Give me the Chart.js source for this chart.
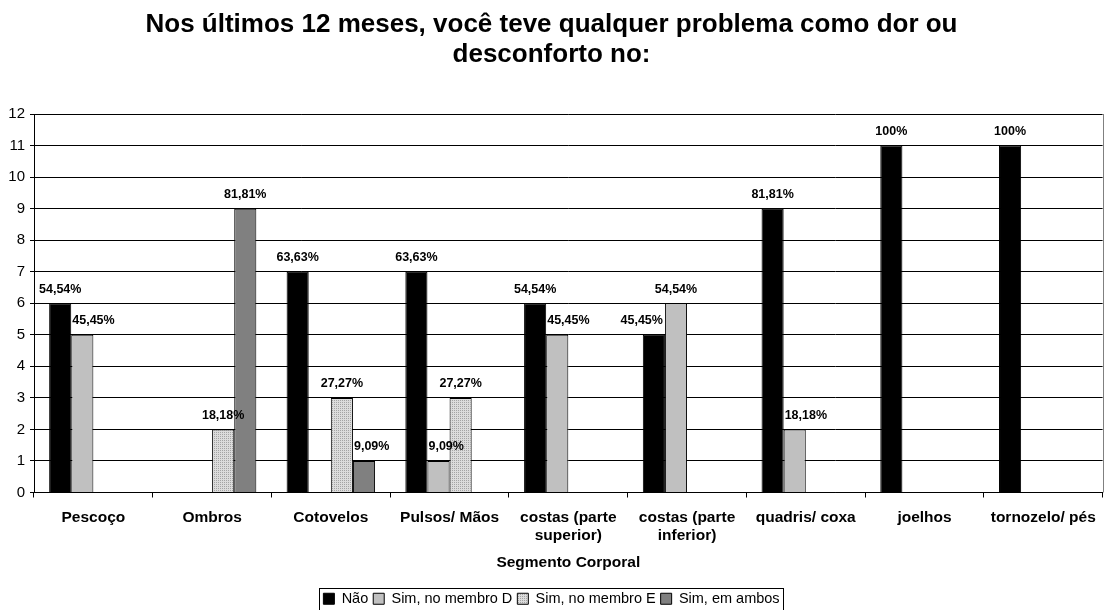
<!DOCTYPE html>
<html>
<head>
<meta charset="utf-8">
<script src="https://cdn.jsdelivr.net/npm/chart.js@4/dist/chart.umd.min.js"></script>
<style>
  html, body { margin: 0; padding: 0; background: #fff; }
  #wrap { width: 1107px; height: 610px; }
</style>
</head>
<body>
<div id="wrap"><canvas id="chart" width="1107" height="610"></canvas></div>
<script>
const categories = [
  'Pescoço', 'Ombros', 'Cotovelos', 'Pulsos/ Mãos',
  ['costas (parte', 'superior)'], ['costas (parte', 'inferior)'],
  'quadris/ coxa', 'joelhos', 'tornozelo/ pés'
];

const naoValues   = [6, 0, 7, 7, 6, 5, 9, 11, 11];
const simDValues  = [5, 0, 0, 1, 5, 6, 2, 0, 0];
const simEValues  = [0, 2, 3, 3, 0, 0, 0, 0, 0];
const ambosValues = [0, 9, 1, 0, 0, 0, 0, 0, 0];

const naoLabels   = ['54,54%', '', '63,63%', '63,63%', '54,54%', '45,45%', '81,81%', '100%', '100%'];
const simDLabels  = ['45,45%', '', '', '9,09%', '45,45%', '54,54%', '18,18%', '', ''];
const simELabels  = ['', '18,18%', '27,27%', '27,27%', '', '', '', '', ''];
const ambosLabels = ['', '81,81%', '9,09%', '', '', '', '', '', ''];

const yTicks = [0, 1, 2, 3, 4, 5, 6, 7, 8, 9, 10, 11, 12];

const FONT = "'Liberation Sans', Arial, sans-serif";

// fine stipple for "Sim, no membro E"
function dotPattern() {
  const c = document.createElement('canvas');
  c.width = 2; c.height = 2;
  const g = c.getContext('2d');
  g.fillStyle = '#dcdcdc';
  g.fillRect(0, 0, 2, 2);
  g.fillStyle = '#a4a4a4';
  g.fillRect(0, 0, 1, 1);
  return g.createPattern(c, 'repeat');
}

const ctx = document.getElementById('chart').getContext('2d');

// percent labels above the bars; a label that would run into a taller
// bar on its left is pushed right, the first series' label is pushed left
const barLabels = {
  id: 'barLabels',
  afterDatasetsDraw(chart) {
    const c = chart.ctx;
    const sets = chart.data.datasets;
    c.save();
    c.font = 'bold 12.5px ' + FONT;
    c.fillStyle = '#000';
    c.textBaseline = 'middle';
    c.textAlign = 'center';
    sets.forEach((ds, i) => {
      const meta = chart.getDatasetMeta(i);
      meta.data.forEach((bar, j) => {
        const txt = ds.pctLabels[j];
        if (!txt) return;
        const w = c.measureText(txt).width;
        const ty = bar.y - 14;
        const left = bar.x - bar.width / 2;
        const right = bar.x + bar.width / 2;
        const taller = k => {
          if (k < 0 || k >= sets.length) return false;
          const v = sets[k].data[j];
          if (!v) return false;
          return chart.getDatasetMeta(k).data[j].y < ty + 7;
        };
        let x = bar.x;
        if (taller(i - 1) && bar.x - w / 2 < left) {
          x = left + w / 2 + 1;
        } else if (i === 0 && taller(i + 1) && bar.x + w / 2 > right) {
          x = right - w / 2 - 2;
        }
        c.fillText(txt, x, ty);
      });
    });
    c.restore();
  }
};

// right edge of the plot and the box round the legend
const frames = {
  id: 'frames',
  afterDraw(chart) {
    const c = chart.ctx;
    const a = chart.chartArea;
    c.save();
    c.strokeStyle = '#808080';
    c.lineWidth = 1;
    c.beginPath();
    c.moveTo(Math.round(a.right) + 0.5, a.top);
    c.lineTo(Math.round(a.right) + 0.5, a.bottom);
    c.stroke();

    const boxes = chart.legend.legendHitBoxes;
    if (boxes && boxes.length) {
      const left = Math.min(...boxes.map(b => b.left)) - 4;
      const right = Math.max(...boxes.map(b => b.left + b.width)) + 4;
      const top = boxes[0].top - 4;
      const bottom = Math.min(boxes[0].top + boxes[0].height + 4, chart.height - 1);
      c.strokeStyle = '#000';
      c.strokeRect(Math.round(left) + 0.5, Math.round(top) + 0.5, Math.round(right - left), Math.round(bottom - top));
    }
    c.restore();
  }
};

new Chart(ctx, {
  type: 'bar',
  data: {
    labels: categories,
    datasets: [
      { label: 'Não', data: naoValues, pctLabels: naoLabels, backgroundColor: '#000000' },
      { label: 'Sim, no membro D', data: simDValues, pctLabels: simDLabels, backgroundColor: '#c0c0c0' },
      { label: 'Sim, no membro E', data: simEValues, pctLabels: simELabels, backgroundColor: dotPattern() },
      { label: 'Sim, em ambos', data: ambosValues, pctLabels: ambosLabels, backgroundColor: '#808080' }
    ].map(d => Object.assign(d, {
      borderColor: '#000',
      borderWidth: 1,
      borderSkipped: 'start',
      categoryPercentage: 0.745,
      barPercentage: 1
    }))
  },
  options: {
    responsive: false,
    animation: false,
    layout: { padding: { left: 0, right: 4, top: 0, bottom: -6 } },
    plugins: {
      title: {
        display: true,
        text: ['Nos últimos 12 meses, você teve qualquer problema como dor ou', 'desconforto no:'],
        color: '#000',
        font: { family: FONT, size: 26, weight: 'bold', lineHeight: '30px' },
        padding: { top: 10, bottom: 44 }
      },
      legend: {
        position: 'bottom',
        labels: {
          color: '#000',
          font: { family: FONT, size: 14.5 },
          boxWidth: 11,
          boxHeight: 11,
          padding: 5
        }
      },
      tooltip: { enabled: false }
    },
    scales: {
      x: {
        afterFit(scale) { scale.height = 94; },
        grid: {
          offset: true,
          drawOnChartArea: false,
          color: '#000',
          tickLength: 5
        },
        border: { color: '#000' },
        ticks: {
          color: '#000',
          font: { family: FONT, size: 15.5, weight: 'bold', lineHeight: '18px' },
          padding: 11,
          maxRotation: 0,
          autoSkip: false
        },
        title: {
          display: true,
          text: 'Segmento Corporal',
          color: '#000',
          font: { family: FONT, size: 15.5, weight: 'bold', lineHeight: '18px' },
          padding: { top: 9, bottom: 15 }
        }
      },
      y: {
        min: 0,
        max: 12,
        afterBuildTicks(scale) {
          scale.ticks = yTicks.map(v => ({ value: v }));
        },
        afterFit(scale) { scale.width = 34; },
        grid: { color: '#000', tickLength: 4 },
        border: { color: '#000' },
        ticks: {
          color: '#000',
          font: { family: FONT, size: 15 },
          padding: 5
        }
      }
    }
  },
  plugins: [barLabels, frames]
});
</script>
</body>
</html>
